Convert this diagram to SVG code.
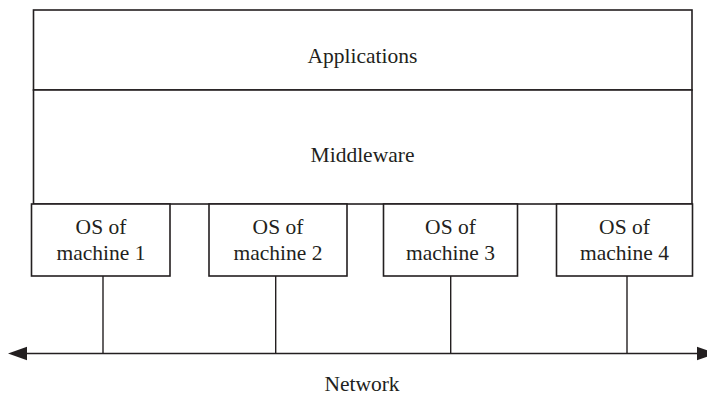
<svg xmlns="http://www.w3.org/2000/svg" width="707" height="398" viewBox="0 0 707 398">
<style>
.box{fill:#fff;stroke:#231f20;stroke-width:1.6}
.ln{stroke:#231f20;stroke-width:1.4;fill:none}
.t{font-family:"Liberation Serif","Times New Roman",serif;font-size:21.5px;fill:#231f20;text-anchor:middle}
.ah{fill:#231f20}
</style>
<rect width="707" height="398" fill="#fff"/>
<g id="applications">
<rect class="box" x="33.5" y="10" width="658.5" height="80"/>
<text class="t" x="362.5" y="62.5">Applications</text>
</g>
<g id="middleware">
<rect class="box" x="33.5" y="90" width="658.5" height="114"/>
<text class="t" x="362.5" y="161.5">Middleware</text>
</g>
<g id="os1">
<rect class="box" x="31.5" y="204" width="138.5" height="72"/>
<text class="t" x="101" y="234">OS of</text>
<text class="t" x="101" y="260">machine 1</text>
</g>
<g id="os2">
<rect class="box" x="209" y="204" width="138" height="72"/>
<text class="t" x="278" y="234">OS of</text>
<text class="t" x="278" y="260">machine 2</text>
</g>
<g id="os3">
<rect class="box" x="383.5" y="204" width="134" height="72"/>
<text class="t" x="450.5" y="234">OS of</text>
<text class="t" x="450.5" y="260">machine 3</text>
</g>
<g id="os4">
<rect class="box" x="556.5" y="204" width="136" height="72"/>
<text class="t" x="624.5" y="234">OS of</text>
<text class="t" x="624.5" y="260">machine 4</text>
</g>
<g id="network">
<text class="t" x="362" y="391">Network</text>
</g>
<g id="connectors">
<line class="ln" x1="103" y1="276" x2="103" y2="353.5"/>
<line class="ln" x1="275.7" y1="276" x2="275.7" y2="353.5"/>
<line class="ln" x1="450.7" y1="276" x2="450.7" y2="353.5"/>
<line class="ln" x1="627" y1="276" x2="627" y2="353.5"/>
<line class="ln" x1="25" y1="353.5" x2="699" y2="353.5"/>
<polygon class="ah" points="8,353.5 27,346.8 27,360.2"/>
<polygon class="ah" points="716,353.5 697,346.8 697,360.2"/>
</g>
</svg>
